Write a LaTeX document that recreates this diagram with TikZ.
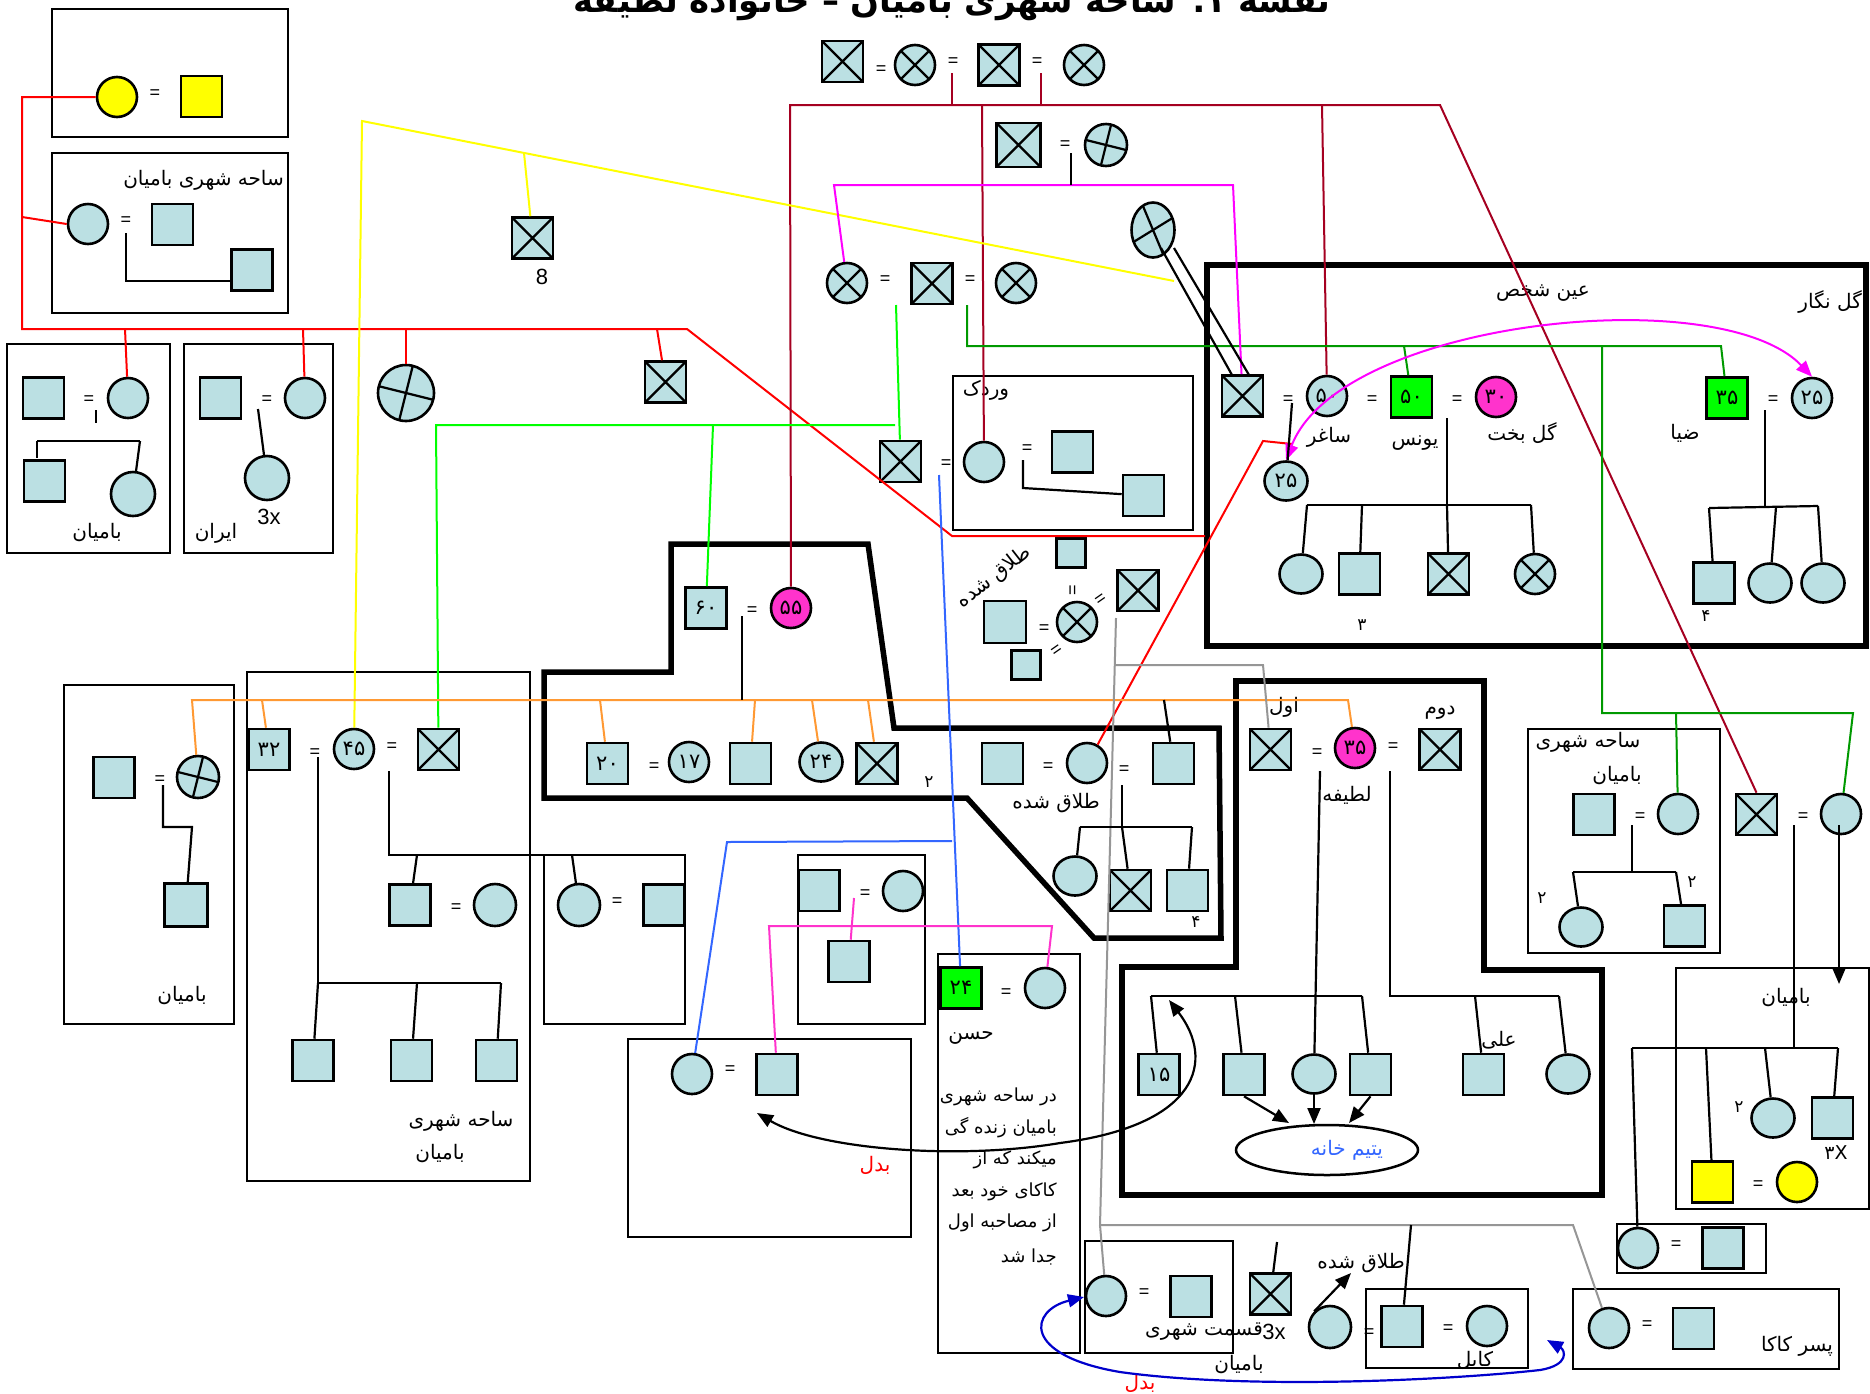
\documentclass[tikz,border=0pt]{standalone}
\usepackage{fontspec}
\setmainfont{Liberation Sans}
\newfontfamily\arfont[Script=Arabic]{DejaVu Sans}
\TeXXeTstate=1
\usetikzlibrary{arrows.meta,shapes.geometric}
\definecolor{lb}{RGB}{187,224,227}
\definecolor{gf}{RGB}{0,255,0}
\definecolor{mf}{RGB}{255,51,204}
\definecolor{yf}{RGB}{255,255,0}
\definecolor{dred}{RGB}{165,0,33}
\definecolor{dgr}{RGB}{0,153,0}
\definecolor{bgr}{RGB}{0,255,0}
\definecolor{mag}{RGB}{255,0,255}
\definecolor{org}{RGB}{255,153,51}
\definecolor{blu}{RGB}{51,102,255}
\definecolor{nav}{RGB}{0,0,204}
\definecolor{gry}{RGB}{150,150,150}
\definecolor{pnk}{RGB}{255,51,204}
\newcommand\pers[1]{{\arfont\beginR #1\endR}}
\newcommand\digf{\arfont\fontsize{21}{21}\selectfont}
\newcommand\eqf{\fontsize{18}{18}\selectfont}
\newcommand\labf{\arfont\fontsize{20}{24}\selectfont}
\newcommand\hasf{\arfont\fontsize{18}{22}\selectfont}
\newcommand\smf{\arfont\fontsize{17}{17}\selectfont}
\begin{document}
\begin{tikzpicture}[x=1pt,y=-1pt,
  per/.style={draw, line width=2.6pt, fill=lb, inner sep=0pt, font=\digf},
  sq/.style={per, rectangle, minimum width=#1, minimum height=#1}, sq/.default=41,
  ci/.style={per, circle, minimum size=#1}, ci/.default=40,
  el/.style={per, ellipse, minimum width=43, minimum height=39},
  xx/.style={path picture={\draw[line width=2.2pt] (path picture bounding box.north west) -- (path picture bounding box.south east) (path picture bounding box.north east) -- (path picture bounding box.south west);}},
  pl/.style={path picture={\draw[line width=2.2pt] ([shift={(-40,-10)}]path picture bounding box.center) -- ([shift={(40,10)}]path picture bounding box.center) ([shift={(10,-40)}]path picture bounding box.center) -- ([shift={(-10,40)}]path picture bounding box.center);}},
  eqs/.style={font=\eqf, inner sep=0pt},
  lab/.style={font=\labf, inner sep=0pt},
  has/.style={font=\hasf, inner sep=0pt, anchor=east},
  sml/.style={font=\smf, inner sep=0pt},
  lat/.style={font=\fontsize{22}{22}\selectfont, inner sep=0pt},
  bx/.style={line width=2.3pt},
  thk/.style={line width=5.5pt, line join=miter},
  cn/.style={line width=2.2pt},
  rl/.style={draw=red, line width=2pt},
  dr/.style={draw=dred, line width=2pt},
  yl/.style={draw=yf, line width=2pt},
  bg/.style={draw=bgr, line width=2pt},
  dg/.style={draw=dgr, line width=2pt},
  mg/.style={draw=mag, line width=2pt},
  ol/.style={draw=org, line width=2pt},
  bl/.style={draw=blu, line width=2pt},
  pk/.style={draw=pnk, line width=2pt},
  gy/.style={draw=gry, line width=2pt},
  tri/.style={-{Triangle[length=16pt,width=13pt]}},
  tri2/.style={{Triangle[length=16pt,width=13pt]}-{Triangle[length=16pt,width=13pt]}}
]
\useasboundingbox (0,0) rectangle (1870,1393);
\clip (0,0) rectangle (1870,1393);
\fill[white] (0,0) rectangle (1870,1393);

% ---------- title ----------
\node[font=\arfont\bfseries\fontsize{34}{34}\selectfont, inner sep=0pt, anchor=base] (title) at (952,12) {\pers{نقشه ۱: ساحه شهری بامیان – خانواده لطیفه}};

% ---------- thin boxes ----------
\draw[bx] (52,9) rectangle (288,137);
\draw[bx] (52,153) rectangle (288,313);
\draw[bx] (7,344) rectangle (170,553);
\draw[bx] (184,344) rectangle (333,553);
\draw[bx] (953,376) rectangle (1193,530);
\draw[bx] (64,685) rectangle (234,1024);
\draw[bx] (247,672) rectangle (530,1181);
\draw[bx] (544,855) rectangle (685,1024);
\draw[bx] (798,855) rectangle (925,1024);
\draw[bx] (628,1039) rectangle (911,1237);
\draw[bx] (938,954) rectangle (1080,1353);
\draw[bx] (1085,1241) rectangle (1233,1353);
\draw[bx] (1366,1289) rectangle (1528,1368);
\draw[bx] (1573,1289) rectangle (1839,1369);
\draw[bx] (1676,968) rectangle (1869,1209);
\draw[bx] (1617,1224) rectangle (1766,1273);
\draw[bx] (1528,729) rectangle (1720,953);

% ---------- thick boxes ----------
\draw[thk] (1207,265) rectangle (1866,646);
\draw[thk] (544,672) -- (671,672) -- (671,544) -- (868,544) -- (894,728) -- (1219,728) -- (1221,938) -- (1094,938) -- (967,798) -- (544,798) -- cycle;
\draw[thk] (1236,681) -- (1484,681) -- (1484,970) -- (1602,970) -- (1602,1195) -- (1122,1195) -- (1122,967) -- (1236,967) -- cycle;

% ---------- persons ----------
\node[ci, fill=yf] (ya) at (117,97) {};
\node[sq, fill=yf] (yb) at (201.5,96.5) {};
\node[ci] (b1) at (88,224) {};
\node[sq] (b2) at (172.5,224.5) {};
\node[sq] (b3) at (252,270) {};
\node[sq] (c0) at (43.5,398) {};
\node[ci] (c1) at (128,398) {};
\node[sq] (c2) at (44.5,481) {};
\node[ci=44] (c3) at (133,494) {};
\node[sq] (d0) at (220.5,398) {};
\node[ci] (d1) at (305,398) {};
\node[ci=44] (d2) at (267,478) {};
\node[ci=56, pl] (xc1) at (406,393) {};
\node[sq, xx] (xs1) at (665.5,382) {};
\node[sq, xx] (xs8) at (532.5,238) {};
\node[sq, xx] (t1) at (842.5,61.5) {};
\node[ci, xx] (t2) at (915,65) {};
\node[sq, xx] (t3) at (999,65) {};
\node[ci, xx] (t4) at (1084,65) {};
\node[sq=44, xx] (s1) at (1018.5,145) {};
\node[ci=42, pl] (s2) at (1106,145) {};
\node[ci, xx] (mc1) at (847,283) {};
\node[sq, xx] (mc2) at (932,283.5) {};
\node[ci, xx] (mc3) at (1016,283) {};
\node[per, ellipse, minimum width=43, minimum height=55, path picture={\draw[line width=2.2pt] ([shift={(-18,-43)}]path picture bounding box.center) -- ([shift={(18,43)}]path picture bounding box.center) ([shift={(-39,24)}]path picture bounding box.center) -- ([shift={(39,-24)}]path picture bounding box.center);}] (xe) at (1153,230) {};
\node[sq, xx] (xsE) at (1242.5,396) {};
\node[ci] (c50) at (1327,396) {۵۰};
\node[sq, fill=gf] (g50) at (1411.5,397) {۵۰};
\node[ci, fill=mf] (m30) at (1496,397) {۳۰};
\node[el] (c25) at (1286,481) {۲۵};
\node[el] (k1) at (1301,574) {};
\node[sq] (k2) at (1359.5,574) {};
\node[sq, xx] (k3) at (1448.5,574) {};
\node[ci, xx] (k4) at (1535,574) {};
\node[sq, fill=gf] (g35) at (1727,398) {۳۵};
\node[ci] (c25b) at (1812,398) {۲۵};
\node[sq] (k5) at (1714,583) {};
\node[el] (k6) at (1770,583) {};
\node[el] (k7) at (1823,583) {};
\node[sq, xx] (xsR) at (1756.5,814.5) {};
\node[ci] (cR) at (1841,814) {};
\node[sq] (bs1) at (1594,814.5) {};
\node[ci] (bc1) at (1678,814) {};
\node[el] (bc2) at (1581,927) {};
\node[sq] (bs2) at (1684.5,926) {};
\node[ci] (wc) at (984,462) {};
\node[sq] (w1) at (1072.5,452) {};
\node[sq] (w2) at (1143.5,495.5) {};
\node[sq, xx] (xsG) at (900.5,461.5) {};
\node[sq=29] (sm1) at (1071,553) {};
\node[ci, xx] (sd1) at (1077,622) {};
\node[sq=42] (sd2) at (1005,622) {};
\node[sq=29] (sm2) at (1026,665) {};
\node[sq, xx] (sd3) at (1138,590.5) {};
\node[sq] (s60) at (706,608) {۶۰};
\node[ci, fill=mf] (c55) at (791,608) {۵۵};
\node[sq] (k20) at (607.5,763.5) {۲۰};
\node[ci] (c17) at (689,762) {۱۷};
\node[sq] (k21) at (750.5,763.5) {};
\node[el] (c24) at (821,762) {۲۴};
\node[sq, xx] (k22) at (877,763.5) {};
\node[sq] (h1) at (1002.5,763.5) {};
\node[ci] (h2) at (1087,763) {};
\node[sq] (h3) at (1173.5,763.5) {};
\node[el] (h4) at (1075,876) {};
\node[sq, xx] (h5) at (1130.5,890.5) {};
\node[sq] (h6) at (1187.5,890.5) {};
\node[sq] (l1) at (114,777.5) {};
\node[ci=42, pl] (l2) at (198,777) {};
\node[sq=43] (l3) at (186,905) {};
\node[sq] (s32) at (269,749.5) {۳۲};
\node[ci] (c45) at (354,749) {۴۵};
\node[sq, xx] (xs45) at (438.5,749.5) {};
\node[sq] (q1) at (410,905) {};
\node[ci=42] (q2) at (495,905) {};
\node[ci=42] (q3) at (579,905) {};
\node[sq] (q4) at (664,905) {};
\node[sq] (q5) at (313,1060.5) {};
\node[sq] (q6) at (411.5,1060.5) {};
\node[sq] (q7) at (496.5,1060.5) {};
\node[ci] (bb0) at (692,1074) {};
\node[sq] (bb0s) at (777,1074.5) {};
\node[sq] (r1) at (819,890.5) {};
\node[ci] (r2) at (903,891) {};
\node[sq] (r3) at (849,961.5) {};
\node[sq, fill=gf] (g24) at (961,988) {۲۴};
\node[ci] (hc) at (1045,988) {};
\node[ci] (bb1) at (1106,1296) {};
\node[sq] (bb1s) at (1191,1296.5) {};
\node[sq, xx] (bx1) at (1270.5,1294) {};
\node[ci=42] (bc) at (1330,1327) {};
\node[sq] (ks) at (1402,1326.5) {};
\node[ci] (kc) at (1487,1326) {};
\node[ci] (pc) at (1609,1328) {};
\node[sq] (ps) at (1693.5,1328.5) {};
\node[el] (rc1) at (1773,1118) {};
\node[sq] (rs1) at (1832.5,1118) {};
\node[sq, fill=yf] (ys) at (1712.5,1182) {};
\node[ci, fill=yf] (yc) at (1797,1182) {};
\node[ci] (sc) at (1638,1248) {};
\node[sq] (ss) at (1723,1248) {};
\node[sq, xx] (x1st) at (1270.5,749.5) {};
\node[ci, fill=mf] (m35) at (1355,748) {۳۵};
\node[sq, xx] (x2nd) at (1440,749.5) {};
\node[sq] (u15) at (1159,1074.5) {۱۵};
\node[sq] (u2) at (1244,1074.5) {};
\node[el] (u3) at (1314,1074) {};
\node[sq] (u4) at (1370.5,1074.5) {};
\node[sq] (u5) at (1483.5,1074.5) {};
\node[el] (u6) at (1568,1074) {};
\node[draw, ellipse, line width=2.5pt, minimum width=182, minimum height=50, inner sep=0pt] (yt) at (1327,1150) {};
\node[lab, text=blu] (ytl) at (1347,1150) {\pers{یتیم خانه}};

% ---------- equal signs ----------
\foreach \p/\n in {{(155,94)}/e1,{(126,221)}/e2,{(89,400)}/e3,{(267,400)}/e4,{(881,70)}/e5,{(953,62)}/e6,{(1037,62)}/e7,{(1065,145)}/e8,{(885,280)}/e9,{(970,280)}/e10,{(946,464)}/e11,{(1027,449)}/e12,{(1288,400)}/e13,{(1372,400)}/e14,{(1457,400)}/e15,{(1773,400)}/e16,{(752,611)}/e17,{(654,767)}/e18,{(1048,767)}/e19,{(1124,770)}/e20,{(160,780)}/e21,{(315,753)}/e22,{(392,747)}/e23,{(456,908)}/e24,{(617,902)}/e25,{(865,894)}/e26,{(730,1070)}/e27,{(1006,993)}/e28,{(1144,1293)}/e29,{(1369,1333)}/e30,{(1448,1329)}/e31,{(1647,1325)}/e32,{(1640,817)}/e33,{(1803,817)}/e34,{(1758,1185)}/e35,{(1676,1245)}/e36,{(1317,753)}/e37,{(1393,747)}/e38,{(1044,629)}/e39}
  \node[eqs] (\n) at \p {=};
\node[eqs, rotate=90] (e40) at (1074,590) {=};
\node[eqs, rotate=35] (e41) at (1101,600) {=};
\node[eqs, rotate=35] (e42) at (1057,651) {=};

% ---------- labels ----------
\node[lab, anchor=east] (L1) at (284,180) {\pers{ساحه شهری بامیان}};
\node[lab] (L2) at (97,533) {\pers{بامیان}};
\node[lab] (L3) at (216,533) {\pers{ایران}};
\node[lat] (L4) at (269,517) {3x};
\node[lat] (L5) at (542,277) {8};
\node[lab] (L6) at (986,390) {\pers{وردک}};
\node[lab] (L7) at (1543,293) {\pers{عین شخص}};
\node[lab, anchor=east] (L8) at (1862,302) {\pers{گل نگار}};
\node[lab] (L9) at (1329,437) {\pers{ساغر}};
\node[lab] (L10) at (1415,443) {\pers{یونس}};
\node[lab] (L11) at (1522,433) {\pers{گل بخت}};
\node[lab] (L12) at (1685,433) {\pers{ضیا}};
\node[sml] (L13) at (1362,625) {۳};
\node[sml] (L14) at (1706,616) {۴};
\node[lab, rotate=38] (L15) at (994,577) {\pers{طلاق شده}};
\node[lab] (L16) at (1056,803) {\pers{طلاق شده}};
\node[sml] (L17) at (929,782) {۲};
\node[sml] (L18) at (1196,922) {۴};
\node[lab] (L19) at (1284,707) {\pers{اول}};
\node[lab] (L20) at (1440,713) {\pers{دوم}};
\node[lab] (L21) at (1347,795) {\pers{لطیفه}};
\node[lab] (L22) at (1588,742) {\pers{ساحه شهری}};
\node[lab] (L23) at (1617,776) {\pers{بامیان}};
\node[sml] (L24) at (1542,898) {۲};
\node[sml] (L25) at (1692,882) {۲};
\node[lab] (L26) at (182,995) {\pers{بامیان}};
\node[lab] (L27) at (461,1121) {\pers{ساحه شهری}};
\node[lab] (L28) at (440,1153) {\pers{بامیان}};
\node[lab] (L29) at (971,1038) {\pers{حسن}};
\node[has] (H1) at (1057,1097) {\pers{در ساحه شهری}};
\node[has] (H2) at (1057,1128) {\pers{بامیان زنده گی}};
\node[has] (H3) at (1057,1160) {\pers{میکند که از}};
\node[has] (H4) at (1057,1192) {\pers{کاکای خود بعد}};
\node[has] (H5) at (1057,1223) {\pers{از مصاحبه اول}};
\node[has] (H6) at (1057,1257) {\pers{جدا شد}};
\node[lab] (L30) at (1499,1040) {\pers{علی}};
\node[lab, text=red] (L31) at (875,1165) {\pers{بدل}};
\node[lab, text=red] (L32) at (1140,1383) {\pers{بدل}};
\node[lab] (L33) at (1204,1332) {\pers{قسمت شهری}};
\node[lat] (L34) at (1274,1332) {3x};
\node[lab] (L35) at (1239,1364) {\pers{بامیان}};
\node[lab] (L36) at (1361,1263) {\pers{طلاق شده}};
\node[lab] (L37) at (1475,1360) {\pers{کابل}};
\node[lab] (L38) at (1797,1346) {\pers{پسر کاکا}};
\node[lab] (L39) at (1786,997) {\pers{بامیان}};
\node[sml] (L40) at (1739,1107) {۲};
\node[font=\arfont\fontsize{19}{19}\selectfont, inner sep=0pt] (L41) at (1836,1153) {۳X};

% ---------- coloured connectors ----------
\draw[rl] (ya.west) -- (22,97) -- (22,329) -- (687,329) -- (952,536) -- (1205,536);
\draw[rl] (22,217) -- (b1.west);
\draw[rl] (125,329) -- (c1);
\draw[rl] (303,329) -- (d1);
\draw[rl] (406,329) -- (xc1);
\draw[rl] (657,329) -- (xs1);
\draw[rl] (h2.60) -- (1263,441) -- (1292,444);

\draw[dr] (c55) -- (790,105) -- (1440,105) -- (xsR.north);
\draw[dr] (952,73) -- (952,105);
\draw[dr] (1041,73) -- (1041,105);
\draw[dr] (982,105) -- (wc);
\draw[dr] (1322,105) -- (c50);

\draw[yl] (c45) -- (362,121) -- (1174,281);
\draw[yl] (524,153) -- (xs8);

\draw[bg] (896,305) -- (xsG);
\draw[bg] (895,425) -- (436,425) -- (xs45);
\draw[bg] (713,425) -- (s60);

\draw[dg] (967,305) -- (967,346) -- (1721,346) -- (g35);
\draw[dg] (1404,346) -- (g50);
\draw[dg] (1602,346) -- (1602,713) -- (1853,713) -- (cR);
\draw[dg] (1676,713) -- (bc1);

\draw[mg] (mc1) -- (834,185) -- (1233,185) -- (xsE);
\draw[ol] (l2) -- (192,700) -- (1348,700) -- (m35);
\draw[ol] (262,700) -- (s32);
\draw[ol] (600,700) -- (k20);
\draw[ol] (755,700) -- (k21);
\draw[ol] (812,700) -- (c24);
\draw[ol] (868,700) -- (k22);

\draw[bl] (952,841) -- (727,842) -- (bb0);
\draw[bl] (939,475) -- (g24);

\draw[pk] (bb0s) -- (769,926) -- (1052,926) -- (hc);
\draw[pk] (854,898) -- (r3);

\draw[gy] (1116,618) -- (1100,1225) -- (1573,1225) -- (pc);
\draw[gy] (1115,665) -- (1263,665) -- (x1st);
\draw[gy] (1100,1225) -- (bb1);

\draw[mg, tri2] (c25.north) .. controls (1340,320) and (1720,280) .. (c25b.north);

% ---------- black connectors ----------
\draw[cn] (126,233) -- (126,281) -- (b3.west |- 0,281);
\draw[cn] (96,410) -- (96,423);
\draw[cn] (37,441) -- (140,441);
\draw[cn] (37,441) -- (37,458);
\draw[cn] (140,441) -- (c3);
\draw[cn] (258,409) -- (d2);
\draw[cn] (1071,153) -- (1071,185);
\draw[cn] (1161,248) -- (1232,375);
\draw[cn] (1174,248) -- (1249,375);
\draw[cn] (1023,460) -- (1023,488) -- (w2);
\draw[cn] (1292,403) -- (c25);
\draw[cn] (1447,418) -- (1447,505);
\draw[cn] (1307,505) -- (1531,505);
\draw[cn] (1307,505) -- (k1);
\draw[cn] (1362,505) -- (k2);
\draw[cn] (1447,505) -- (k3);
\draw[cn] (1531,505) -- (k4);
\draw[cn] (1765,410) -- (1765,507);
\draw[cn] (1709,508) -- (1818,506);
\draw[cn] (1709,508) -- (k5);
\draw[cn] (1776,507) -- (k6);
\draw[cn] (1818,506) -- (k7);
\draw[cn] (742,616) -- (742,700);
\draw[cn] (1164,700) -- (h3);
\draw[cn] (1122,785) -- (1122,827);
\draw[cn] (1080,827) -- (1192,827);
\draw[cn] (1080,827) -- (h4);
\draw[cn] (1122,827) -- (h5);
\draw[cn] (1192,827) -- (h6);
\draw[cn] (163,785) -- (163,827) -- (192,827) -- (l3);
\draw[cn] (318,757) -- (318,983) -- (501,983);
\draw[cn] (318,983) -- (q5);
\draw[cn] (417,983) -- (q6);
\draw[cn] (501,983) -- (q7);
\draw[cn] (389,771) -- (389,855) -- (684,855);
\draw[cn] (417,855) -- (q1);
\draw[cn] (572,855) -- (q3);
\draw[cn] (1632,825) -- (1632,872);
\draw[cn] (1573,872) -- (1676,872);
\draw[cn] (1573,872) -- (bc2);
\draw[cn] (1676,872) -- (bs2);
\draw[cn] (1794,825) -- (1794,1048);
\draw[cn] (1632,1048) -- (1838,1048);
\draw[cn] (1632,1048) -- (sc);
\draw[cn] (1706,1048) -- (ys);
\draw[cn] (1765,1048) -- (rc1);
\draw[cn] (1838,1048) -- (rs1);
\draw[cn, tri] (1839,825) -- (1839,984);
\draw[cn] (1320,771) -- (u3);
\draw[cn] (1151,996) -- (1362,996);
\draw[cn] (1151,996) -- (u15);
\draw[cn] (1235,996) -- (u2);
\draw[cn] (1362,996) -- (u4);
\draw[cn] (1390,771) -- (1390,996) -- (1559,996);
\draw[cn] (1475,996) -- (u5);
\draw[cn] (1559,996) -- (u6);
\draw[cn, tri] (u2.south) -- (1289,1123);
\draw[cn, tri] (u3.south) -- (1314,1124);
\draw[cn, tri] (u4.south) -- (1349,1123);
\draw[cn] (1411,1225) -- (ks);
\draw[cn] (1277,1242) -- (bx1);
\draw[cn, tri] (bc.north west) -- (1351,1273);
\coordinate (a1) at (1169,1000);
\coordinate (a2) at (757,1113);
\draw[cn, tri2] (a1) .. controls (1215,1060) and (1200,1125) .. (1060,1143) .. controls (960,1160) and (820,1150) .. (a2);
\coordinate (a3) at (1084,1297);
\coordinate (a4) at (1547,1340);
\draw[nav, line width=2.2pt, tri2] (a3) .. controls (1030,1310) and (1020,1355) .. (1120,1372) .. controls (1250,1390) and (1450,1380) .. (1540,1370) .. controls (1570,1365) and (1565,1350) .. (a4);
\end{tikzpicture}
\end{document}
